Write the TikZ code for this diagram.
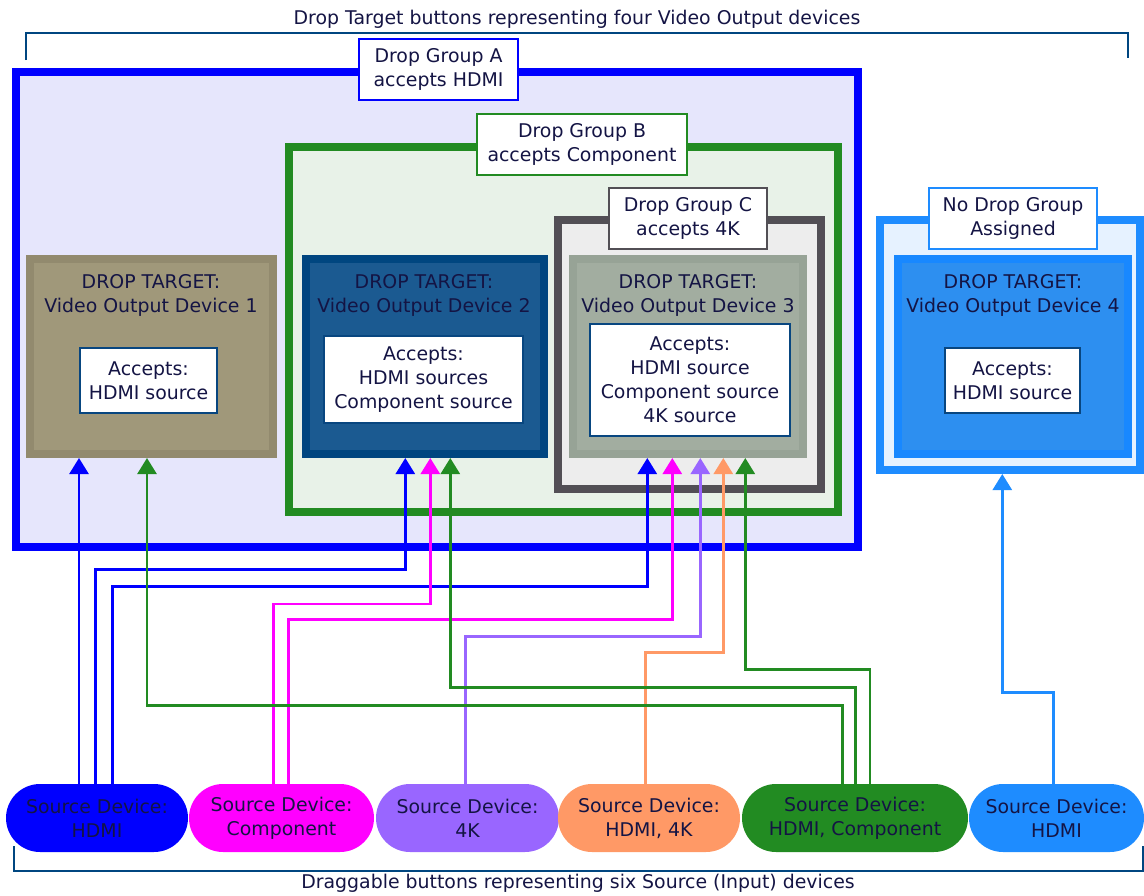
\documentclass[tikz,border=0pt]{standalone}
\usepackage{fontspec}
\setmainfont{DejaVu Sans}
\usetikzlibrary{arrows.meta}
\definecolor{txt}{RGB}{20,20,68}
\definecolor{hdmi}{RGB}{0,0,255}
\definecolor{comp}{RGB}{255,0,255}
\definecolor{fourk}{RGB}{153,102,255}
\definecolor{orng}{RGB}{255,153,102}
\definecolor{grn}{RGB}{34,139,34}
\definecolor{dblue}{RGB}{30,140,255}
\definecolor{brk}{RGB}{0,70,128}
\definecolor{gAfill}{RGB}{230,230,252}
\definecolor{gBfill}{RGB}{232,242,232}
\definecolor{gCline}{RGB}{82,79,85}
\definecolor{gCfill}{RGB}{237,237,237}
\definecolor{gNfill}{RGB}{230,242,255}
\definecolor{tAline}{RGB}{146,138,110}
\definecolor{tAfill}{RGB}{160,152,122}
\definecolor{tBline}{RGB}{0,70,128}
\definecolor{tBfill}{RGB}{27,90,145}
\definecolor{tCline}{RGB}{151,163,150}
\definecolor{tCfill}{RGB}{162,173,160}
\definecolor{tDline}{RGB}{24,136,255}
\definecolor{tDfill}{RGB}{45,143,240}
\definecolor{acc}{RGB}{8,70,128}
\tikzset{
  tx/.style={font=\fontsize{18.9pt}{24pt}\selectfont, text=txt, align=center, inner sep=0pt},
  grp/.style={draw, line width=8pt, inner sep=0pt},
  tgt/.style={draw, line width=8pt, inner sep=0pt, minimum height=195pt},
  lbl/.style={tx, draw, line width=2pt, fill=white, minimum height=61pt},
  accbox/.style={tx, draw=acc, line width=2pt, fill=white},
  pill/.style={tx, rounded corners=34pt, minimum height=68pt},
  conn/.style={line width=2.6pt, -{Triangle[width=19pt,length=16pt]}},
  brace/.style={draw=brk, line width=2.5pt}
}
\begin{document}
\begin{tikzpicture}[x=1pt,y=-1pt]
\useasboundingbox (0,0) rectangle (1144,895);
% groups
\node[grp, draw=hdmi, fill=gAfill, minimum width=842pt, minimum height=475pt] (gA) at (437,309.5) {};
\node[grp, draw=grn, fill=gBfill, minimum width=549pt, minimum height=365pt] (gB) at (563.5,329.5) {};
\node[grp, draw=gCline, fill=gCfill, minimum width=263pt, minimum height=269pt] (gC) at (689.5,354.5) {};
\node[grp, draw=dblue, fill=gNfill, minimum width=260pt, minimum height=250pt] (gN) at (1010,345) {};
% drop targets
\node[tgt, draw=tAline, fill=tAfill, minimum width=243pt] (t1) at (151.5,356.5) {};
\node[tgt, draw=tBline, fill=tBfill, minimum width=238pt] (t2) at (425,356.5) {};
\node[tgt, draw=tCline, fill=tCfill, minimum width=230pt] (t3) at (688,356.5) {};
\node[tgt, draw=tDline, fill=tDfill, minimum width=230pt] (t4) at (1013,356.5) {};
\node[tx] (t1h) at (151,295) {DROP TARGET:\\Video Output Device 1};
\node[tx] (t2h) at (424,295) {DROP TARGET:\\Video Output Device 2};
\node[tx] (t3h) at (688,295) {DROP TARGET:\\Video Output Device 3};
\node[tx] (t4h) at (1013,295) {DROP TARGET:\\Video Output Device 4};
\node[accbox, minimum width=137pt, minimum height=65pt] (a1) at (148.5,380.5) {Accepts:\\HDMI source};
\node[accbox, minimum width=199pt, minimum height=87pt] (a2) at (423.5,379.5) {Accepts:\\HDMI sources\\Component source};
\node[accbox, minimum width=200pt, minimum height=112pt] (a3) at (690,380) {Accepts:\\HDMI source\\Component source\\4K source};
\node[accbox, minimum width=135pt, minimum height=65pt] (a4) at (1012.5,380.5) {Accepts:\\HDMI source};
% group labels
\node[lbl, draw=hdmi, minimum width=159pt] (lA) at (438.5,69) {Drop Group A\\accepts HDMI};
\node[lbl, draw=grn, minimum width=210pt] (lB) at (582,144.5) {Drop Group B\\accepts Component};
\node[lbl, draw=gCline, minimum width=158pt] (lC) at (688,218.5) {Drop Group C\\accepts 4K};
\node[lbl, draw=dblue, minimum width=168pt] (lN) at (1013,218.5) {No Drop Group\\Assigned};
% sources
\node[pill, fill=hdmi, minimum width=182pt] (s1) at (97,818) {Source Device:\\HDMI};
\node[pill, fill=comp, minimum width=185pt] (s2) at (281.5,818) {Source Device:\\Component};
\node[pill, fill=fourk, minimum width=183pt] (s3) at (467.5,818) {Source Device:\\4K};
\node[pill, fill=orng, minimum width=182pt] (s4) at (649,818) {Source Device:\\HDMI, 4K};
\node[pill, fill=grn, minimum width=226pt] (s5) at (855,818) {Source Device:\\HDMI, Component};
\node[pill, fill=dblue, minimum width=175pt] (s6) at (1056.5,818) {Source Device:\\HDMI};
% connectors
\draw[conn,hdmi] ([xshift=-18pt]s1.north) -- (t1.south -| 79,0);
\draw[conn,hdmi] ([xshift=-1.3pt]s1.north) |- (405.3,569.3) -- (t2.south -| 405.3,0);
\draw[conn,hdmi] ([xshift=15.3pt]s1.north) |- (647.3,586.3) -- (t3.south -| 647.3,0);
\draw[conn,comp] ([xshift=-8.2pt]s2.north) |- (430.3,604) -- (t2.south -| 430.3,0);
\draw[conn,comp] ([xshift=6.8pt]s2.north) |- (672.3,619.7) -- (t3.south -| 672.3,0);
\draw[conn,fourk] ([xshift=-2pt]s3.north) |- (700.3,636.3) -- (t3.south -| 700.3,0);
\draw[conn,orng] ([xshift=-3.7pt]s4.north) |- (723.3,652.7) -- (t3.south -| 723.3,0);
\draw[conn,grn] ([xshift=-12.7pt]s5.north) |- (147,705.3) -- (t1.south -| 147,0);
\draw[conn,grn] ([xshift=0.3pt]s5.north) |- (450.3,687.3) -- (t2.south -| 450.3,0);
\draw[conn,grn] ([xshift=15pt]s5.north) |- (745.3,669.3) -- (t3.south -| 745.3,0);
\draw[conn,dblue] ([xshift=-3.2pt]s6.north) |- (1002.3,692.3) -- (gN.south -| 1002.3,0);
% brackets and captions
\draw[brace] (26,60) -- (26,33) -- (1128,33) -- (1128,58);
\draw[brace] (14,846) -- (14,871) -- (1143,871) -- (1143,846);
\node[tx] (top) at (577,19) {Drop Target buttons representing four Video Output devices};
\node[tx] (bot) at (578,883) {Draggable buttons representing six Source (Input) devices};
\end{tikzpicture}
\end{document}
